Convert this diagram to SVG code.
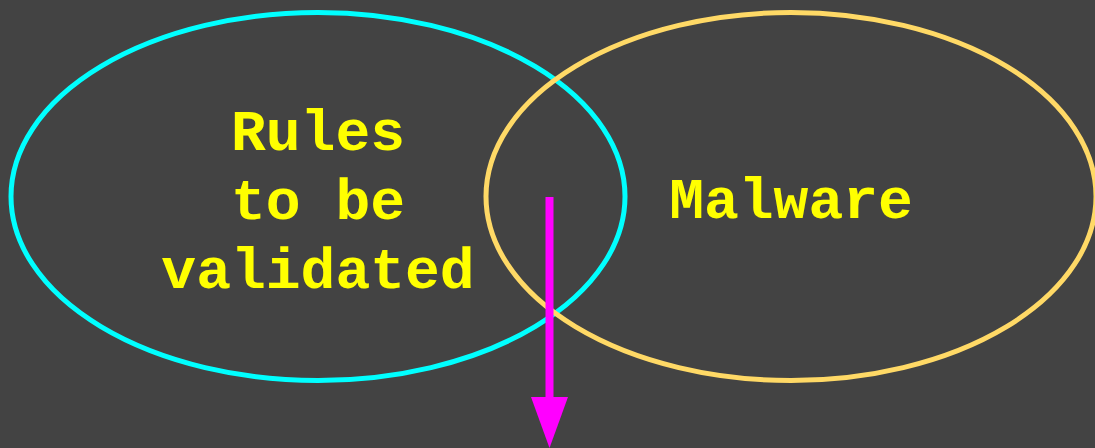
<svg xmlns="http://www.w3.org/2000/svg" width="1095" height="448" viewBox="0 0 1095 448">
<defs>
<style>
.lbl{font-family:"Liberation Mono","Courier New",monospace;font-weight:bold;font-size:58px;fill:#ffff00;text-anchor:middle}
</style>
</defs>
<rect width="1095" height="448" fill="#434343"/>
<g id="rules">
<ellipse cx="318" cy="196.5" rx="307" ry="184" fill="none" stroke="#00ffff" stroke-width="5"/>
<text class="lbl" x="318" y="150">Rules</text>
<text class="lbl" x="318" y="219">to be</text>
<text class="lbl" x="318" y="288">validated</text>
</g>
<g id="malware">
<ellipse cx="791" cy="196.5" rx="305" ry="184" fill="none" stroke="#ffd966" stroke-width="5"/>
<text class="lbl" x="791" y="218">Malware</text>
</g>
<g id="connectors">
<line x1="549.5" y1="197" x2="549.5" y2="400" stroke="#ff00ff" stroke-width="8"/>
<polygon points="531,397 568,397 549.5,448" fill="#ff00ff"/>
</g>
</svg>
